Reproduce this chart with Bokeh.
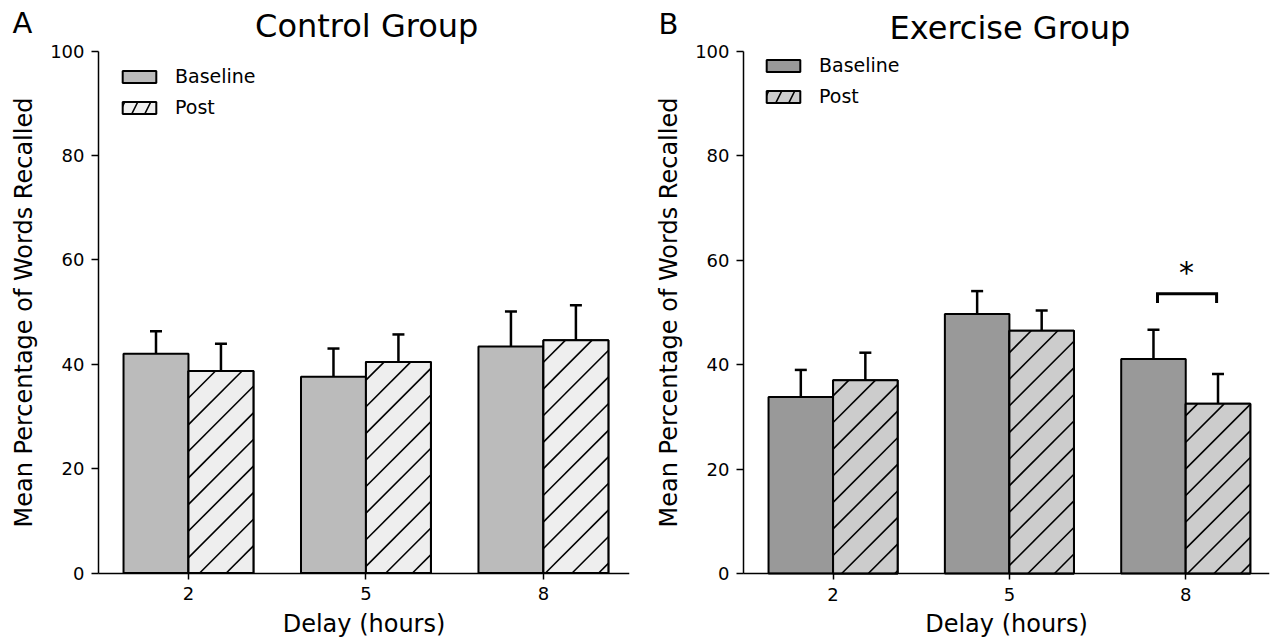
import numpy as np
from bokeh.plotting import figure
from bokeh.layouts import row
from bokeh.models import (Range1d, FixedTicker, Label, Whisker, TeeHead,
                          ColumnDataSource, Legend, LegendItem)
from bokeh.embed import file_html
from bokeh.resources import INLINE

# ---------------- data ----------------
delays = ["2", "5", "8"]
control_baseline = [42.0, 37.6, 43.4]
control_baseline_err = [4.3, 5.4, 6.7]
control_post = [38.7, 40.4, 44.6]
control_post_err = [5.2, 5.3, 6.7]
exercise_baseline = [33.8, 49.7, 41.1]
exercise_baseline_err = [5.2, 4.4, 5.6]
exercise_post = [37.0, 46.5, 32.5]
exercise_post_err = [5.3, 3.9, 5.7]
yticks = [0, 20, 40, 60, 80, 100]
sig_delay = "8"
sig_bracket = [51.8, 53.6]   # bracket foot, bracket top
sig_text = "*"

FONT = "DejaVu Sans"
BAR_W = 0.366
PANEL_W = 642
PANEL_H = 641
SY = 5.22               # px per percentage point
HATCH_SPACING = 26.6    # px, horizontal spacing of 45 degree hatch lines
HATCH_PHASE = 13.0


def hatch_segments(xc, tops, x_start, sx, sy):
    """45-degree '/' hatch lines clipped to each bar (computed in pixel space)."""
    x0s, y0s, x1s, y1s = [], [], [], []
    for x, t in zip(xc, tops):
        u0 = (x - BAR_W / 2 - x_start) * sx
        u1 = (x + BAR_W / 2 - x_start) * sx
        vt = t * sy
        kmin = int(np.floor((u0 - vt - HATCH_PHASE) / HATCH_SPACING)) - 1
        kmax = int(np.ceil((u1 - HATCH_PHASE) / HATCH_SPACING)) + 1
        for k in range(kmin, kmax + 1):
            c = HATCH_PHASE + k * HATCH_SPACING
            ua = max(u0, c)
            ub = min(u1, c + vt)
            if ub - ua > 0.5:
                x0s.append(ua / sx + x_start); y0s.append((ua - c) / sy)
                x1s.append(ub / sx + x_start); y1s.append((ub - c) / sy)
    return x0s, y0s, x1s, y1s


def make_panel(letter, title, base, base_err, post, post_err, base_color, post_color,
               axis_x, x_end, spine_px, right_b, zero_px, legend_loc,
               letter_px, title_px, title_size, sig=False):
    frame_w = PANEL_W - right_b
    sx = (frame_w - spine_px) / (x_end - axis_x)
    x_start = axis_x - spine_px / sx
    y_end = zero_px / SY
    y_start = -(PANEL_H - zero_px) / SY

    p = figure(width=PANEL_W, height=PANEL_H, x_range=Range1d(x_start, x_end),
               y_range=Range1d(y_start, y_end), output_backend="svg",
               toolbar_location=None,
               min_border_left=0, min_border_right=right_b,
               min_border_top=0, min_border_bottom=0)
    p.outline_line_color = None
    p.xgrid.visible = False
    p.ygrid.visible = False
    p.background_fill_color = "white"
    p.border_fill_color = "white"

    pos = np.arange(len(delays), dtype=float)
    b = np.array(base)
    be = np.array(base_err)
    q = np.array(post)
    qe = np.array(post_err)

    r1 = p.vbar(x=pos - BAR_W / 2, top=b, width=BAR_W, bottom=0,
                fill_color=base_color, line_color="black", line_width=2)
    # hatched post bars (their swatch is what the legend shows)
    r2 = p.vbar(x=pos + BAR_W / 2, top=q, width=BAR_W, bottom=0,
                fill_color=post_color, line_color="black", line_width=2,
                hatch_pattern="/", hatch_color="black", hatch_weight=1.6,
                hatch_scale=26)
    # 45-degree hatch drawn on top of a plain fill
    p.vbar(x=pos + BAR_W / 2, top=q, width=BAR_W, bottom=0,
           fill_color=post_color, line_color=None)
    hx0, hy0, hx1, hy1 = hatch_segments(pos + BAR_W / 2, q, x_start, sx, SY)
    p.segment(x0=hx0, y0=hy0, x1=hx1, y1=hy1, line_color="black", line_width=1.6)
    p.vbar(x=pos + BAR_W / 2, top=q, width=BAR_W, bottom=0,
           fill_color=None, line_color="black", line_width=2)

    for xs, v, e in ((pos - BAR_W / 2, b, be), (pos + BAR_W / 2, q, qe)):
        src = ColumnDataSource(dict(x=xs, lower=v, upper=v + e))
        w = Whisker(source=src, base="x", lower="lower", upper="upper",
                    dimension="height", line_color="black", line_width=2.5,
                    lower_head=None,
                    upper_head=TeeHead(size=12, line_width=2.5, line_color="black"),
                    level="overlay")
        p.add_layout(w)

    legend = Legend(items=[LegendItem(label="Baseline", renderers=[r1]),
                           LegendItem(label="Post", renderers=[r2])],
                    location=legend_loc, orientation="vertical",
                    glyph_width=42, glyph_height=15, label_height=15,
                    label_standoff=15, spacing=9, padding=0, margin=0,
                    border_line_color=None, background_fill_alpha=0,
                    label_text_font=FONT, label_text_font_size="19px",
                    label_text_color="black")
    p.add_layout(legend)

    # axes (drawn at fixed data locations inside the frame)
    p.yaxis.ticker = FixedTicker(ticks=yticks)
    p.yaxis.fixed_location = axis_x
    p.yaxis.bounds = (0, 100)
    p.xaxis.ticker = FixedTicker(ticks=list(pos))
    p.xaxis.fixed_location = 0
    p.xaxis.bounds = (axis_x, x_end)
    p.xaxis.major_label_overrides = {i: d for i, d in enumerate(delays)}
    for ax in (p.xaxis, p.yaxis):
        ax.axis_line_color = "black"
        ax.axis_line_width = 1.5
        ax.major_tick_line_color = "black"
        ax.major_tick_line_width = 1.5
        ax.minor_tick_line_color = None
        ax.major_tick_in = 0
        ax.major_label_text_font = FONT
        ax.major_label_text_font_size = "18px"
        ax.major_label_text_color = "black"
        ax.axis_label_text_font = FONT
        ax.axis_label_text_font_size = "24px"
        ax.axis_label_text_font_style = "normal"
        ax.axis_label_text_color = "black"
    p.yaxis.major_tick_out = 7
    p.yaxis.major_label_standoff = 7
    p.xaxis.major_tick_out = 6
    p.xaxis.major_label_standoff = 8
    p.yaxis.axis_label = "Mean Percentage of Words Recalled"
    p.xaxis.axis_label = "Delay (hours)"
    p.yaxis.axis_label_standoff = 9
    p.xaxis.axis_label_standoff = 6

    # panel letter and title (positions given in canvas pixels, converted to data)
    lx, ly = letter_px
    tx, ty = title_px
    p.add_layout(Label(x=x_start + lx / sx, y=y_end - ly / SY, text=letter,
                       text_font=FONT, text_font_size="29px", text_color="black",
                       text_baseline="alphabetic", text_align="left"))
    p.add_layout(Label(x=x_start + tx / sx, y=y_end - ty / SY, text=title,
                       text_font=FONT, text_font_size=title_size, text_color="black",
                       text_baseline="alphabetic", text_align="center"))

    if sig:
        i = delays.index(sig_delay)
        foot, topy = sig_bracket
        p.line(x=[i - 0.16, i - 0.16, i + 0.175, i + 0.175],
               y=[foot, topy, topy, foot], line_color="black", line_width=3,
               line_join="miter")
        p.add_layout(Label(x=i + 0.005, y=topy + 4.0, text=sig_text, text_font=FONT,
                           text_font_size="30px", text_color="black",
                           text_baseline="alphabetic", text_align="center"))
    return p


p1 = make_panel("A", "Control Group", control_baseline, control_baseline_err,
                control_post, control_post_err, "#bbbbbb", "#eeeeee",
                -0.507, 2.485, 98, 13, 572.5, (118, 523),
                (12, 22.1), (366.2, 25.4), "32px")
p2 = make_panel("B", "Exercise Group", exercise_baseline, exercise_baseline_err,
                exercise_post, exercise_post_err, "#999999", "#cccccc",
                -0.508, 2.475, 101, 15, 573.0, (120, 534),
                (16, 23.1), (367.4, 27.2), "32px", sig=True)

layout = row(p1, p2, spacing=0)
open("out.html", "w").write(file_html(layout, INLINE))
